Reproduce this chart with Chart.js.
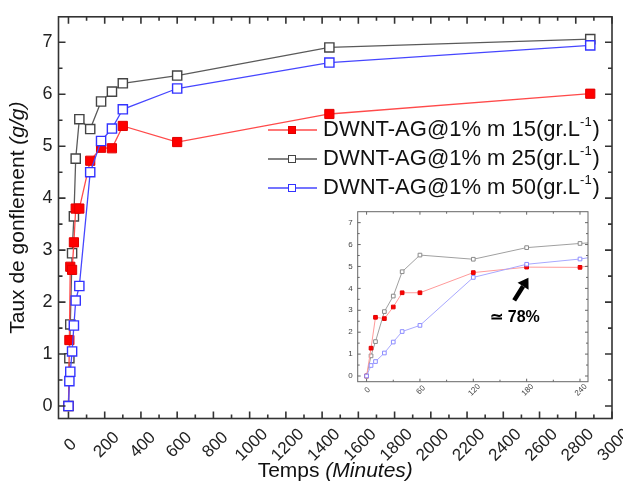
<!DOCTYPE html>
<html>
<head>
<meta charset="utf-8">
<script src="https://cdn.jsdelivr.net/npm/chart.js@4.4.0/dist/chart.umd.min.js"></script>
<style>
  html, body { margin: 0; padding: 0; background: #fff; }
  #wrap { position: relative; width: 623px; height: 490px; }
  #mainChart { position: absolute; left: 0; top: 0; }
  #insetChart { position: absolute; left: 333px; top: 200px; }
</style>
</head>
<body>
<div id="wrap">
  <canvas id="mainChart" width="623" height="490"></canvas>
  <canvas id="insetChart" width="265" height="205"></canvas>
</div>
<script>
// time in minutes
const times  = [0, 5, 10, 20, 30, 40, 60, 120, 180, 240, 300, 600, 1440, 2880];
// swelling ratio (g/g)
const m15 = [0, 1.27, 2.68, 2.62, 3.15, 3.80, 3.80, 4.72, 4.97, 4.96, 5.39, 5.08, 5.62, 6.01];
const m25 = [0, 0.92, 1.57, 2.94, 3.65, 4.76, 5.52, 5.33, 5.86, 6.05, 6.21, 6.36, 6.90, 7.06];
const m50 = [0, 0.48, 0.66, 1.05, 1.55, 2.03, 2.31, 4.50, 5.10, 5.34, 5.71, 6.11, 6.61, 6.94];
const seriesLabels = ['DWNT-AG@1% m 15(gr.L⁻¹)', 'DWNT-AG@1% m 25(gr.L⁻¹)', 'DWNT-AG@1% m 50(gr.L⁻¹)'];

const xTicksMain  = [0, 200, 400, 600, 800, 1000, 1200, 1400, 1600, 1800, 2000, 2200, 2400, 2600, 2800, 3000];
const yTicksMain  = [0, 1, 2, 3, 4, 5, 6, 7];
const xTicksInset = [0, 60, 120, 180, 240];
const yTicksInset = [0, 1, 2, 3, 4, 5, 6, 7];

const FONT = "'Liberation Sans', Arial, sans-serif";
Chart.defaults.font.family = FONT;

function points(ys) {
    return times.map((t, i) => ({ x: t, y: ys[i] }));
}

function makeDatasets(small) {
    const r = small ? 2.6 : 6.5;
    return [
        { label: seriesLabels[0], data: points(m15), order: 1,
          borderColor: small ? '#ff9a9a' : '#ff4a4a', borderWidth: small ? 1 : 1.3,
          pointStyle: 'rect', pointRadius: r, pointBackgroundColor: '#ff0000',
          pointBorderColor: '#e00000', pointBorderWidth: 1 },
        { label: seriesLabels[1], data: points(m25), order: 2,
          borderColor: small ? '#a0a0a0' : '#5a5a5a', borderWidth: small ? 1 : 1.3,
          pointStyle: 'rect', pointRadius: r, pointBackgroundColor: '#ffffff',
          pointBorderColor: small ? '#8a8a8a' : '#444444', pointBorderWidth: small ? 1 : 1.4 },
        { label: seriesLabels[2], data: points(m50), order: 0,
          borderColor: small ? '#a8a8ff' : '#4646ff', borderWidth: small ? 1 : 1.3,
          pointStyle: 'rect', pointRadius: r, pointBackgroundColor: '#ffffff',
          pointBorderColor: small ? '#8c8cff' : '#3333ff', pointBorderWidth: small ? 1 : 1.4 }
    ];
}

// frame + inward ticks on all four sides, rotated x labels
const framePlugin = {
    id: 'frame',
    beforeDraw(chart) {
        const ctx = chart.ctx;
        ctx.save();
        ctx.fillStyle = '#fff';
        ctx.fillRect(0, 0, chart.width, chart.height);
        ctx.restore();
    },
    afterDraw(chart, args, o) {
        const { ctx, chartArea: a, scales: { x, y } } = chart;
        ctx.save();
        ctx.strokeStyle = o.color;
        ctx.lineWidth = o.width;
        ctx.strokeRect(a.left, a.top, a.right - a.left, a.bottom - a.top);

        const xMaj = o.xTicks, yMaj = o.yTicks;
        const xMin = xMaj.slice(0, -1).map((v, i) => (v + xMaj[i + 1]) / 2);
        const yMin = yMaj.slice(0, -1).map((v, i) => (v + yMaj[i + 1]) / 2);
        ctx.beginPath();
        const hx = (v, len) => {
            const p = x.getPixelForValue(v);
            if (p < a.left || p > a.right) return;
            ctx.moveTo(p, a.bottom); ctx.lineTo(p, a.bottom - len);
            ctx.moveTo(p, a.top); ctx.lineTo(p, a.top + len);
        };
        const hy = (v, len) => {
            const p = y.getPixelForValue(v);
            if (p < a.top || p > a.bottom) return;
            ctx.moveTo(a.left, p); ctx.lineTo(a.left + len, p);
            ctx.moveTo(a.right, p); ctx.lineTo(a.right - len, p);
        };
        xMaj.forEach(v => hx(v, o.major));
        xMin.forEach(v => hx(v, o.minor));
        yMaj.forEach(v => hy(v, o.major));
        yMin.forEach(v => hy(v, o.minor));
        ctx.stroke();

        // x tick labels, rotated 45 degrees
        ctx.fillStyle = o.labelColor;
        ctx.font = `${o.xFont}px ${FONT}`;
        ctx.textAlign = 'center';
        ctx.textBaseline = 'middle';
        xMaj.forEach(v => {
            ctx.save();
            ctx.translate(x.getPixelForValue(v) + o.xLabelDx, o.xLabelY);
            ctx.rotate(-Math.PI / 4);
            ctx.fillText(String(v), 0, 0);
            ctx.restore();
        });
        ctx.restore();
    }
};

function mixedText(ctx, parts, cx, cy) {
    let total = 0;
    parts.forEach(p => { ctx.font = p.font; total += ctx.measureText(p.text).width; });
    let cur = cx - total / 2;
    parts.forEach(p => {
        ctx.font = p.font;
        ctx.fillText(p.text, cur, cy);
        cur += ctx.measureText(p.text).width;
    });
}

const decorPlugin = {
    id: 'decor',
    afterDraw(chart) {
        const { ctx, chartArea: a } = chart;
        ctx.save();
        ctx.fillStyle = '#111';
        ctx.textAlign = 'left';
        ctx.textBaseline = 'middle';

        // axis titles
        mixedText(ctx, [
            { text: 'Temps ', font: `21px ${FONT}` },
            { text: '(Minutes)', font: `italic 21px ${FONT}` }
        ], (a.left + a.right) / 2, 471);
        ctx.save();
        ctx.translate(18, (a.top + a.bottom) / 2);
        ctx.rotate(-Math.PI / 2);
        mixedText(ctx, [
            { text: 'Taux de gonflement ', font: `21px ${FONT}` },
            { text: '(g/g)', font: `italic 21px ${FONT}` }
        ], 0, 0);
        ctx.restore();

        // legend
        chart.data.datasets.forEach((ds, i) => {
            const yy = 130 + i * 29;
            ctx.strokeStyle = ds.borderColor;
            ctx.lineWidth = 1.3;
            ctx.beginPath();
            ctx.moveTo(268, yy); ctx.lineTo(317, yy);
            ctx.stroke();
            ctx.fillStyle = ds.pointBackgroundColor;
            ctx.fillRect(288.5, yy - 3.5, 7, 7);
            ctx.strokeStyle = ds.pointBorderColor;
            ctx.lineWidth = 1;
            ctx.strokeRect(288.5, yy - 3.5, 7, 7);

            const [base, rest] = ds.label.split('⁻¹');
            ctx.fillStyle = '#111';
            let cx = 323;
            ctx.font = `22px ${FONT}`;
            ctx.fillText(base, cx, yy);
            cx += ctx.measureText(base).width;
            ctx.font = `13px ${FONT}`;
            ctx.fillText('-1', cx, yy - 8);
            cx += ctx.measureText('-1').width + 1;
            ctx.font = `22px ${FONT}`;
            ctx.fillText(rest, cx, yy);
        });
        ctx.restore();
    }
};

const noteArrow = { tail: { x: 166, y: 3.45 }, head: { x: 182, y: 4.48 }, text: '≃ 78%', at: { x: 167, y: 2.65 } };

const notePlugin = {
    id: 'note',
    afterDraw(chart) {
        const { ctx, scales: { x, y } } = chart;
        const x0 = x.getPixelForValue(noteArrow.tail.x), y0 = y.getPixelForValue(noteArrow.tail.y);
        const x1 = x.getPixelForValue(noteArrow.head.x), y1 = y.getPixelForValue(noteArrow.head.y);
        const ang = Math.atan2(y1 - y0, x1 - x0);
        const hl = 10, hw = 6.5;
        const bx = x1 - hl * Math.cos(ang), by = y1 - hl * Math.sin(ang);
        ctx.save();
        ctx.strokeStyle = '#000';
        ctx.fillStyle = '#000';
        ctx.lineWidth = 4.5;
        ctx.beginPath();
        ctx.moveTo(x0, y0); ctx.lineTo(bx, by);
        ctx.stroke();
        ctx.beginPath();
        ctx.moveTo(x1, y1);
        ctx.lineTo(bx + hw * Math.sin(ang), by - hw * Math.cos(ang));
        ctx.lineTo(bx - hw * Math.sin(ang), by + hw * Math.cos(ang));
        ctx.closePath();
        ctx.fill();
        ctx.font = `bold 16px ${FONT}`;
        ctx.textAlign = 'center';
        ctx.textBaseline = 'middle';
        ctx.fillText(noteArrow.text, x.getPixelForValue(noteArrow.at.x), y.getPixelForValue(noteArrow.at.y));
        ctx.restore();
    }
};

function fixedTicks(list) {
    return scale => { scale.ticks = list.map(v => ({ value: v })); };
}

new Chart(document.getElementById('mainChart'), {
    type: 'line',
    data: { datasets: makeDatasets(false) },
    options: {
        responsive: false,
        animation: false,
        layout: { padding: { top: 12, right: 11, left: 0, bottom: 0 } },
        scales: {
            x: {
                type: 'linear', min: -55, max: 3000,
                grid: { display: false, drawTicks: false }, border: { display: false },
                ticks: { display: false },
                afterBuildTicks: fixedTicks(xTicksMain),
                afterFit: s => { s.height = 71.5; }
            },
            y: {
                type: 'linear', min: -0.24, max: 7.49,
                grid: { display: false, drawTicks: false }, border: { display: false },
                ticks: { font: { size: 18 }, color: '#222', padding: 6 },
                afterBuildTicks: fixedTicks(yTicksMain),
                afterFit: s => { s.width = 58.5; }
            }
        },
        plugins: {
            legend: { display: false },
            tooltip: { enabled: false },
            frame: { color: '#333', width: 1.6, major: 7, minor: 4,
                     xTicks: xTicksMain, yTicks: yTicksMain,
                     labelColor: '#222', xFont: 17, xLabelDx: 2, xLabelY: 445 }
        }
    },
    plugins: [framePlugin, decorPlugin]
});

new Chart(document.getElementById('insetChart'), {
    type: 'line',
    data: { datasets: makeDatasets(true) },
    options: {
        responsive: false,
        animation: false,
        layout: { padding: { top: 11.7, right: 10, left: 0, bottom: 0 } },
        scales: {
            x: {
                type: 'linear', min: -10, max: 249,
                grid: { display: false, drawTicks: false }, border: { display: false },
                ticks: { display: false },
                afterBuildTicks: fixedTicks(xTicksInset),
                afterFit: s => { s.height = 23.3; }
            },
            y: {
                type: 'linear', min: -0.26, max: 7.5,
                grid: { display: false, drawTicks: false }, border: { display: false },
                ticks: { font: { size: 8 }, color: '#444', padding: 5 },
                afterBuildTicks: fixedTicks(yTicksInset),
                afterFit: s => { s.width = 24.7; }
            }
        },
        plugins: {
            legend: { display: false },
            tooltip: { enabled: false },
            frame: { color: '#666', width: 1, major: 3, minor: 2,
                     xTicks: xTicksInset, yTicks: yTicksInset,
                     labelColor: '#444', xFont: 8, xLabelDx: 1, xLabelY: 190 }
        }
    },
    plugins: [framePlugin, notePlugin]
});
</script>
</body>
</html>
